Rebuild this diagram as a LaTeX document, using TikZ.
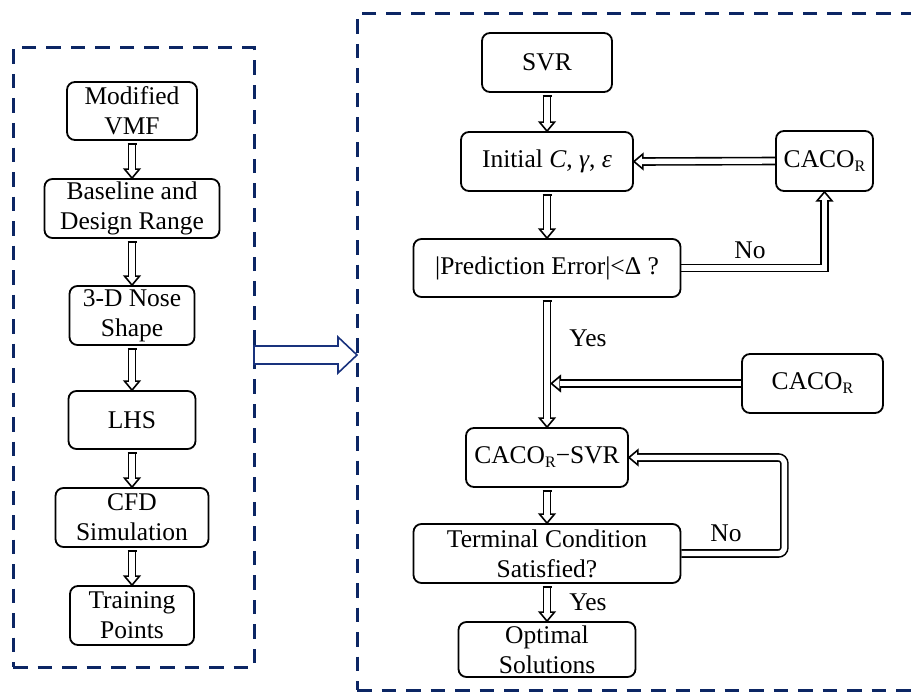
\documentclass[tikz,border=0pt]{standalone}
\usepackage{fontspec}
\setmainfont{Liberation Serif}
\usetikzlibrary{calc,backgrounds}
\definecolor{navy}{RGB}{12,38,100}
\definecolor{arrowblue}{RGB}{25,50,125}
\newcommand\Rsub{\raisebox{-4pt}{\fontsize{16}{16}\selectfont R}}
% hollow arrow head: #1 tip coordinate, #2 pointing angle (canvas)
\newcommand\ahead[2]{\draw[headst] ($(#1)+(#2+140.2:11.7pt)$) -- (#1) -- ($(#1)+(#2-140.2:11.7pt)$) -- cycle;}
\tikzset{
  box/.style={draw, line width=1.8pt, rounded corners=8pt, fill=white, align=center,
    inner sep=0pt, font=\fontsize{25.5}{30}\selectfont},
  lbl/.style={inner sep=0pt, font=\fontsize{25.5}{30}\selectfont},
  frame/.style={draw=navy, line width=3pt, dash pattern=on 14.5pt off 10pt, inner sep=0pt, outer sep=0pt},
  dshaft/.style={draw=black, double=white, line width=1.6pt, double distance=5.4pt},
  capst/.style={draw=black, line width=1.6pt},
  headst/.style={draw=black, fill=white, line width=1.6pt, line join=miter},
  bigarrow/.style={draw=arrowblue, fill=white, line width=1.6pt, line join=miter}
}
\begin{document}
\begin{tikzpicture}[x=1pt,y=-1pt]
\useasboundingbox (0,0) rectangle (911,693);
\clip (0,0) rectangle (911,693);
% frames
\node[frame, minimum width=241pt, minimum height=619pt] (lb) at (133.5,357.5) {};
\node[frame, minimum width=578pt, minimum height=676pt] (rb) at (646,352) {};
% left column
\node[box, minimum width=130pt, minimum height=58pt] (mvmf) at (132,111) {Modified\\VMF};
\node[box, minimum width=175pt, minimum height=59pt] (base) at (132,208.5) {Baseline and\\Design Range};
\node[box, minimum width=125pt, minimum height=59pt] (nose) at (132,315.5) {3-D Nose\\Shape};
\node[box, minimum width=127pt, minimum height=58pt] (lhs) at (132,420) {LHS};
\node[box, minimum width=153pt, minimum height=59pt] (cfd) at (132,517.5) {CFD\\Simulation};
\node[box, minimum width=124pt, minimum height=59pt] (train) at (132,615.5) {Training\\Points};
% right column
\node[box, minimum width=130pt, minimum height=59pt] (svr) at (547,62.5) {SVR};
\node[box, minimum width=172pt, minimum height=59pt] (init) at (547,161.5) {Initial \textit{C}, \textit{γ}, \textit{ε}};
\node[box, minimum width=97pt, minimum height=60pt] (caco1) at (824.5,161) {CACO\Rsub};
\node[box, minimum width=267pt, minimum height=58pt] (pred) at (547,268) {|Prediction Error|<Δ ?};
\node[box, minimum width=141pt, minimum height=59pt] (caco2) at (812.5,383.5) {CACO\Rsub};
\node[box, minimum width=162pt, minimum height=59pt] (cs) at (547,457.5) {CACO\Rsub−SVR};
\node[box, minimum width=267pt, minimum height=59pt] (term) at (547,553.5) {Terminal Condition\\Satisfied?};
\node[box, minimum width=177pt, minimum height=55pt] (opt) at (547,649.5) {Optimal\\Solutions};
% labels
\node[lbl] (no1) at (750,250) {No};
\node[lbl] (yes1) at (588,338) {Yes};
\node[lbl] (no2) at (726,533) {No};
\node[lbl] (yes2) at (588,602) {Yes};
\begin{pgfonlayer}{background}
% vertical arrows
\foreach \a/\b in {mvmf/base, base/nose, nose/lhs, lhs/cfd, cfd/train, svr/init, init/pred, pred/cs, cs/term, term/opt}{
  \ahead{\b.north}{-90}
  \draw[dshaft] ($(\a.south)+(0,-3pt)$) -- ($(\b.north)+(0,8.2pt)$);
  \draw[capst] ($(\a.south)+(-4.5pt,-3pt)$) -- ($(\a.south)+(4.5pt,-3pt)$);
}
% CACO top -> initial
\ahead{init.east}{180}
\draw[dshaft] (caco1.west) -- ($(init.east)+(8.2pt,0)$);
% prediction -> CACO top (No)
\ahead{caco1.south}{90}
\draw[dshaft] (pred.east) -- (pred.east -| caco1.south) -- ($(caco1.south)+(0,-8.2pt)$);
% CACO middle -> main line
\coordinate (jn) at ($(pred.south |- caco2.west)+(4.3pt,0)$);
\ahead{jn}{180}
\draw[dshaft] (caco2.west) -- ($(jn)+(8.2pt,0)$);
% terminal -> CACO-SVR loop (No)
\ahead{cs.east}{180}
\draw[dshaft, rounded corners=6pt] (term.east) -- ++(103pt,0) |- ($(cs.east)+(8.2pt,0)$);
\end{pgfonlayer}
% big arrow between frames
\draw[bigarrow] let \p1=(lb.east), \p2=(rb.west), \p3=(0,355) in
  (\x1,\y3+9pt) -- (\x2-19pt,\y3+9pt) -- (\x2-19pt,\y3+18pt) -- (\x2,\y3)
  -- (\x2-19pt,\y3-18pt) -- (\x2-19pt,\y3-9pt) -- (\x1,\y3-9pt) -- cycle;
\end{tikzpicture}
\end{document}
